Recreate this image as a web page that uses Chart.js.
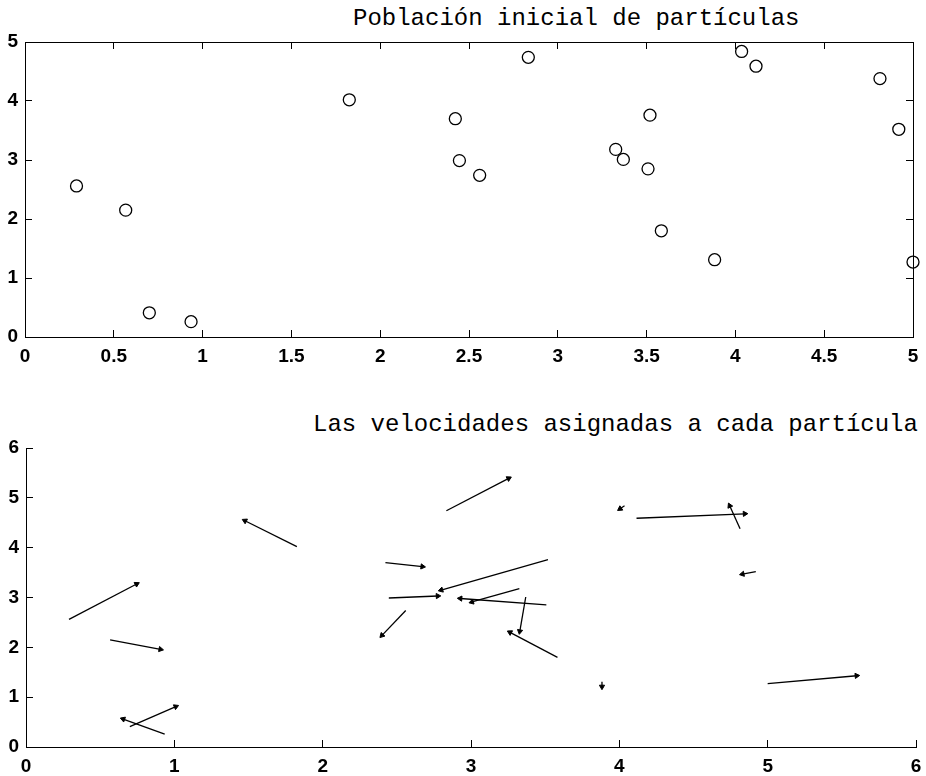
<!DOCTYPE html>
<html>
<head>
<meta charset="utf-8">
<script src="https://cdn.jsdelivr.net/npm/chart.js@4/dist/chart.umd.min.js"></script>
<style>
  body { margin: 0; background: #fff; }
  #page { position: relative; width: 926px; height: 776px; }
  .box { position: absolute; left: 0; width: 926px; }
  .title {
    position: absolute;
    font-family: "Liberation Mono", "DejaVu Sans Mono", monospace;
    font-size: 24px;
    line-height: 24px;
    color: #000;
    white-space: nowrap;
  }
</style>
</head>
<body>
<div id="page">
  <div class="title" style="left:353px; top:7px;">Población inicial de partículas</div>
  <div class="box" style="top:0; height:380px;"><canvas id="posChart"></canvas></div>
  <div class="title" style="left:313px; top:413px;">Las velocidades asignadas a cada partícula</div>
  <div class="box" style="top:385px; height:391px;"><canvas id="velChart"></canvas></div>
</div>
<script>
// particle positions
const posX = [0.29, 0.567, 0.70, 0.935, 1.826, 2.423, 2.446, 2.56, 2.834, 3.326,
              3.369, 3.508, 3.519, 3.583, 3.883, 4.035, 4.116, 4.814, 4.92, 5.0];
const posY = [2.56, 2.15, 0.41, 0.26, 4.02, 3.70, 2.99, 2.74, 4.74, 3.18,
              3.01, 2.85, 3.76, 1.80, 1.31, 4.84, 4.59, 4.38, 3.52, 1.27];

// velocity components (as drawn by the quiver)
const velX = [0.456, 0.34, 0.31, -0.28, -0.35, 0.25, 0.33, -0.16, 0.42, -0.32,
              -0.04, -0.58, -0.72, -0.32, 0.0, -0.03, 0.73, -0.07, -0.09, 0.60];
const velY = [0.71, -0.19, 0.40, 0.30, 0.52, -0.08, 0.04, -0.50, 0.65, -0.27,
              -0.69, 0.13, -0.61, 0.50, -0.10, -0.06, 0.09, 0.46, -0.05, 0.16];

const posTicksX = [0, 0.5, 1, 1.5, 2, 2.5, 3, 3.5, 4, 4.5, 5];
const posTicksY = [0, 1, 2, 3, 4, 5];
const velTicksX = [0, 1, 2, 3, 4, 5, 6];
const velTicksY = [0, 1, 2, 3, 4, 5, 6];

const tickFont = { family: "'Liberation Sans', Arial, sans-serif", size: 19, weight: 'bold' };
const TL = -7; // negative tick length -> ticks point into the plot

function axis(pos, ticks, opts) {
  const horiz = pos === 'top' || pos === 'bottom';
  return Object.assign({
    type: 'linear',
    position: pos,
    min: ticks[0],
    max: ticks[ticks.length - 1],
    afterBuildTicks: s => { s.ticks = ticks.map(v => ({ value: v })); },
    grid: { drawOnChartArea: false, drawTicks: true, tickLength: TL, color: '#000', lineWidth: 1 },
    border: { display: true, color: '#000', width: 1 },
    ticks: {
      color: '#000', font: tickFont, padding: horiz ? 15 : 14,
      maxRotation: 0, autoSkip: false,
      callback: v => String(v)
    }
  }, opts || {});
}

function sized(w, h) {
  return s => {
    if (w !== null) s.width = w;
    if (h !== null) s.height = h;
    s.paddingLeft = 0; s.paddingRight = 0; s.paddingTop = 0; s.paddingBottom = 0;
  };
}

const common = {
  responsive: true,
  maintainAspectRatio: false,
  animation: false,
  plugins: { legend: { display: false }, tooltip: { enabled: false }, title: { display: false } }
};

// top: initial positions
new Chart(document.getElementById('posChart'), {
  type: 'scatter',
  data: {
    datasets: [{
      data: posX.map((x, i) => ({ x: x, y: posY[i] })),
      pointStyle: 'circle',
      pointRadius: 6,
      borderColor: '#000',
      backgroundColor: 'rgba(0,0,0,0)',
      borderWidth: 1.3,
      clip: false
    }]
  },
  options: Object.assign({}, common, {
    layout: { padding: { top: 42, right: 13, left: 0, bottom: 0 } },
    scales: {
      x: axis('bottom', posTicksX, { afterFit: sized(null, 43) }),
      y: axis('left', posTicksY, { afterFit: sized(25, null) }),
      x2: axis('top', posTicksX, { afterFit: sized(null, 0), ticks: { display: false } }),
      y2: axis('right', posTicksY, { afterFit: sized(0, null), ticks: { display: false } })
    }
  })
});

// bottom: one two-point line per particle, arrowhead at the end
function headAngle(ctx) {
  const d = ctx.dataset.data;
  const sx = ctx.chart.scales.x, sy = ctx.chart.scales.y;
  const dx = sx.getPixelForValue(d[1].x) - sx.getPixelForValue(d[0].x);
  const dy = sy.getPixelForValue(d[1].y) - sy.getPixelForValue(d[0].y);
  return Math.atan2(dy, dx) * 180 / Math.PI + 90;
}

const arrows = posX.map((x, i) => ({
  data: [{ x: x, y: posY[i] }, { x: x + velX[i], y: posY[i] + velY[i] }],
  showLine: true,
  borderColor: '#000',
  backgroundColor: '#000',
  borderWidth: 1.3,
  pointStyle: 'triangle',
  pointRadius: [0, 3],
  pointBorderWidth: 1,
  pointRotation: headAngle,
  clip: false
}));

new Chart(document.getElementById('velChart'), {
  type: 'scatter',
  data: { datasets: arrows },
  options: Object.assign({}, common, {
    layout: { padding: { top: 63, right: 10, left: 0, bottom: 0 } },
    scales: {
      x: axis('bottom', velTicksX, { afterFit: sized(null, 29) }),
      y: axis('left', velTicksY, { afterFit: sized(26, null) })
    }
  })
});
</script>
</body>
</html>
